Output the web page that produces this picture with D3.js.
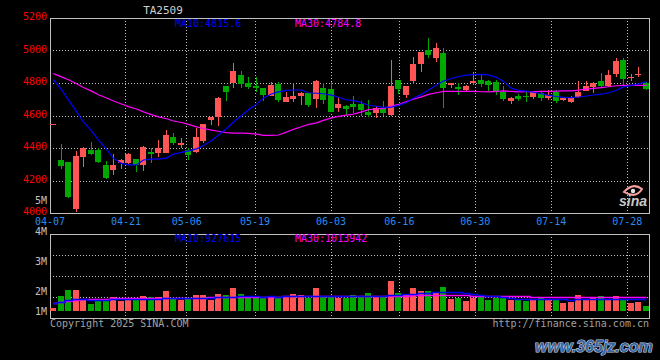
<!DOCTYPE html>
<html><head><meta charset="utf-8">
<script src="https://cdn.jsdelivr.net/npm/d3@7/dist/d3.min.js"></script>
<style>html,body{margin:0;padding:0;background:#000;}svg{display:block}</style>
</head><body>
<svg id="c" width="660" height="360"></svg>
<script>
const title = "TA2509";
const dates = ["04-07","04-08","04-09","04-10","04-11","04-14","04-15","04-16","04-17","04-18",
"04-21","04-22","04-23","04-24","04-25","04-28","04-29","04-30","05-06","05-07",
"05-08","05-09","05-12","05-13","05-14","05-15","05-16","05-19","05-20","05-21",
"05-22","05-23","05-26","05-27","05-28","05-29","05-30","06-03","06-04","06-05",
"06-06","06-09","06-10","06-11","06-12","06-13","06-16","06-17","06-18","06-19",
"06-20","06-23","06-24","06-25","06-26","06-27","06-30","07-01","07-02","07-03",
"07-04","07-07","07-08","07-09","07-10","07-11","07-14","07-15","07-16","07-17",
"07-18","07-21","07-22","07-23","07-24","07-25","07-28","07-29","07-30","07-31"];
const openP = [4548,4326,4314,4026,4346,4388,4388,4295,4265,4306,
4310,4330,4297,4377,4367,4371,4466,4420,4388,4377,
4445,4570,4593,4781,4798,4849,4802,4781,4767,4720,
4794,4685,4701,4720,4736,4700,4771,4763,4644,4658,
4671,4671,4623,4617,4644,4603,4818,4726,4812,4917,
5003,4956,4986,4786,4777,4757,4800,4818,4812,4808,
4746,4689,4720,4718,4716,4736,4706,4746,4695,4685,
4716,4753,4773,4814,4781,4855,4942,4830,4850,4798];
const highP = [4548,4425,4316,4383,4404,4437,4400,4322,4363,4335,
4372,4335,4412,4400,4450,4511,4490,4460,4400,4521,
4548,4592,4716,4781,4925,4874,4837,4837,4767,4806,
4806,4747,4798,4747,4747,4818,4800,4808,4716,4665,
4720,4690,4695,4660,4690,4942,4818,4783,4962,4993,
5075,5046,5013,4798,4800,4788,4870,4849,4818,4818,
4781,4716,4730,4746,4750,4750,4757,4760,4709,4720,
4812,4812,4808,4863,4880,4952,4952,4857,4900,4808];
const lowP = [4548,4273,4092,4008,4281,4357,4305,4211,4236,4271,
4300,4250,4257,4305,4347,4367,4420,4400,4325,4371,
4430,4540,4535,4691,4767,4767,4761,4744,4691,4718,
4683,4685,4685,4665,4650,4648,4670,4620,4623,4603,
4615,4597,4590,4585,4597,4600,4735,4708,4794,4868,
4952,4931,4644,4767,4726,4745,4788,4774,4751,4727,
4691,4670,4689,4685,4699,4690,4695,4677,4689,4680,
4706,4751,4736,4777,4775,4839,4788,4810,4835,4755];
const closeP = [4548,4289,4100,4351,4400,4363,4316,4217,4293,4326,
4362,4293,4404,4361,4400,4480,4433,4433,4357,4466,
4548,4588,4706,4746,4874,4794,4773,4769,4726,4788,
4695,4716,4722,4740,4665,4812,4695,4623,4671,4642,
4650,4634,4603,4644,4617,4781,4761,4783,4917,4993,
4972,5017,4771,4798,4763,4781,4812,4794,4788,4746,
4700,4706,4702,4712,4746,4709,4726,4689,4709,4709,
4746,4783,4798,4781,4849,4935,4823,4834,4856,4761];
const ma10 = [4820,4760,4695,4625,4560,4505,4449,4393,4336,4305,
4296,4296,4326,4332,4332,4338,4362,4373,4382,4395,
4415,4445,4480,4520,4560,4600,4635,4670,4708,4732,
4745,4755,4757,4757,4740,4737,4734,4725,4712,4697,
4692,4680,4663,4657,4650,4652,4662,4680,4708,4730,
4757,4788,4812,4828,4840,4848,4851,4853,4850,4835,
4810,4767,4755,4750,4743,4734,4724,4717,4712,4710,
4714,4720,4726,4731,4740,4755,4776,4785,4795,4808];
const ma30 = [4858,4838,4820,4795,4772,4750,4728,4708,4689,4671,
4655,4640,4622,4605,4592,4580,4566,4557,4545,4530,
4520,4510,4503,4495,4492,4491,4490,4485,4478,4478,
4480,4498,4515,4531,4545,4555,4570,4585,4595,4602,
4608,4622,4636,4640,4644,4658,4668,4685,4700,4715,
4730,4740,4749,4749,4749,4749,4749,4746,4745,4748,
4751,4748,4745,4746,4747,4748,4749,4750,4751,4752,
4756,4762,4767,4772,4777,4783,4785,4786,4786,4785];
// volume in millions of lots
const volume = [0.59,1.07,1.30,1.30,0.91,0.76,0.88,0.88,1.02,0.88,
0.98,0.98,1.07,1.02,1.02,1.26,0.94,0.91,0.94,1.10,
1.10,0.91,1.14,1.10,1.37,1.14,1.07,1.04,1.04,1.07,
1.02,1.04,1.14,1.10,0.98,1.37,1.02,1.04,1.00,1.00,
1.10,1.08,1.18,1.04,1.04,1.64,1.18,1.14,1.37,1.26,
1.26,1.18,1.41,0.95,0.99,0.87,1.00,1.07,0.91,1.00,
0.98,0.91,0.91,0.87,0.94,1.02,0.91,0.91,0.81,0.85,
1.10,0.95,1.02,1.07,0.95,1.07,0.95,0.81,0.85,0.68];
const volMa10 = [0.80,0.84,0.90,0.93,0.93,0.92,0.92,0.92,0.93,0.93,
0.94,0.93,0.93,0.94,0.95,0.97,0.98,0.98,0.98,0.99,
1.00,1.00,1.01,1.03,1.04,1.05,1.05,1.05,1.04,1.05,
1.04,1.05,1.05,1.06,1.06,1.08,1.07,1.06,1.06,1.05,
1.05,1.05,1.06,1.06,1.05,1.11,1.12,1.13,1.15,1.17,
1.19,1.20,1.23,1.22,1.20,1.18,1.15,1.12,1.08,1.05,
1.02,0.99,0.96,0.95,0.94,0.95,0.94,0.94,0.93,0.92,
0.93,0.93,0.94,0.95,0.95,0.96,0.96,0.95,0.95,0.93];
const volMa30 = [0.78,0.83,0.88,0.92,0.94,0.95,0.96,0.96,0.97,0.97,
0.98,0.98,0.98,0.99,0.99,0.99,1.00,1.00,1.00,1.00,
1.00,1.01,1.01,1.02,1.02,1.03,1.03,1.03,1.04,1.04,
1.04,1.05,1.05,1.05,1.05,1.06,1.06,1.06,1.06,1.06,
1.06,1.06,1.07,1.07,1.07,1.08,1.08,1.08,1.09,1.09,
1.10,1.10,1.10,1.10,1.09,1.09,1.08,1.08,1.07,1.07,
1.06,1.06,1.05,1.05,1.04,1.04,1.04,1.03,1.03,1.03,
1.03,1.02,1.02,1.02,1.02,1.02,1.01,1.01,1.01,1.01];
const priceTicks = [5200,5000,4800,4600,4400,4200,4000];
const dateTicks = ["04-07","04-21","05-06","05-19","06-03","06-16","06-30","07-14","07-28"];
const volTickLabels = ["5M","4M","3M","2M","1M"];
const maLabels = ["MA10:4815.6","MA30:4784.8"];
const volMaLabels = ["MA10:927615","MA30:1013942"];

const FONT = "'DejaVu Sans Mono', monospace";
const svg = d3.select("#c");
svg.append("rect").attr("width",660).attr("height",360).attr("fill","#000");

const L = 50, R = 650, T = 18, B = 213, VT = 234, VB = 318, VBASE = 310.7;
const RED = "#ff5555", GREEN = "#00a800", GRID = "#c0c0c0";

const xb = d3.scaleBand().domain(dates).range([L, R]);
const xg = d3.scalePoint().domain(dates).range([L, R]);
const y = d3.scaleLinear().domain([4000, 5200]).range([B, T]);
const yv = d3.scaleLinear().domain([0.5, 3.44]).range([VBASE, VT]);

const bx = d => Math.round(xb(d));
const cx = d => Math.round(xb(d)) + 3;

// grid main
const g = svg.append("g").attr("shape-rendering","crispEdges");
priceTicks.slice(1, -1).forEach(p => {
  g.append("line").attr("x1",L).attr("x2",R-1).attr("y1",Math.round(y(p))+0.5).attr("y2",Math.round(y(p))+0.5)
   .attr("stroke",GRID).attr("stroke-dasharray","1,2");
});
dateTicks.slice(1).forEach(d => {
  const x = Math.floor(xg(d)) + 0.5;
  g.append("line").attr("x1",x).attr("x2",x).attr("y1",T).attr("y2",B).attr("stroke",GRID).attr("stroke-dasharray","1,2");
  g.append("line").attr("x1",x).attr("x2",x).attr("y1",VT).attr("y2",VB).attr("stroke",GRID).attr("stroke-dasharray","1,2");
});
[1,2,3].forEach(k => {
  const yy = Math.round(VT + (VB - VT) * k / 4) + 0.5;
  g.append("line").attr("x1",L).attr("x2",R-1).attr("y1",yy).attr("y2",yy).attr("stroke",GRID).attr("stroke-dasharray","1,2");
});
// borders
g.append("rect").attr("x",L+0.5).attr("y",T+0.5).attr("width",R-L-1).attr("height",B-T).attr("fill","none").attr("stroke",GRID);
g.append("rect").attr("x",L+0.5).attr("y",VT+0.5).attr("width",R-L-1).attr("height",VB-VT).attr("fill","none").attr("stroke",GRID);

// sina logo
const logo = svg.append("g");
logo.append("path").attr("d","M624,192 Q633,182 642,189 Q636,199 624,192 Z").attr("fill","none").attr("stroke","#f4a0a0").attr("stroke-width",2);
logo.append("circle").attr("cx",633).attr("cy",191).attr("r",2.2).attr("fill","#e0e0e0");
logo.append("text").attr("x",619).attr("y",206).attr("font-family","'Liberation Sans', sans-serif").attr("font-size",14)
  .attr("font-weight","bold").attr("font-style","italic").attr("fill","#c8c8c8").text("sina");

// candles
const data = dates.map((d,i) => ({d, o:openP[i], h:highP[i], l:lowP[i], c:closeP[i], v:volume[i]}));
const cg = svg.append("g").attr("shape-rendering","crispEdges");
data.forEach(k => {
  const col = k.c >= k.o ? RED : GREEN;
  const yh = Math.round(y(k.h)), yl = Math.round(y(k.l));
  cg.append("rect").attr("x",cx(k.d)).attr("y",yh).attr("width",1).attr("height",Math.max(1,yl-yh)).attr("fill",col);
  const yt = Math.round(y(Math.max(k.o,k.c))), yb2 = Math.round(y(Math.min(k.o,k.c)));
  cg.append("rect").attr("x",bx(k.d)).attr("y",yt).attr("width",6).attr("height",Math.max(1,yb2-yt)).attr("fill",col);
  const vt = Math.round(yv(k.v));
  cg.append("rect").attr("x",bx(k.d)).attr("y",vt).attr("width",6).attr("height",Math.round(VBASE)-vt).attr("fill",col);
});

// MA lines
const mline = arr => d3.line().x((v,i)=>cx(dates[i])+0.5).y(v=>y(v))(arr);
svg.append("path").attr("d",mline(ma30)).attr("fill","none").attr("stroke","#ff00ff").attr("stroke-width",1.2);
svg.append("path").attr("d",mline(ma10)).attr("fill","none").attr("stroke","#0000ff").attr("stroke-width",1.2);
const vline = arr => d3.line().curve(d3.curveStep).x((v,i)=>cx(dates[i])+0.5).y(v=>Math.round(yv(v))+0.5)(arr);
svg.append("path").attr("d",vline(volMa30)).attr("fill","none").attr("stroke","#ff00ff").attr("stroke-width",1.5);
svg.append("path").attr("d",vline(volMa10)).attr("fill","none").attr("stroke","#0000ff").attr("stroke-width",1.5);

// texts
const txt = (x,yy,s,col,anchor,size) => svg.append("text").attr("x",x).attr("y",yy).attr("fill",col)
  .attr("font-family",FONT).attr("font-size",size||10).attr("text-anchor",anchor||"start")
  .attr("dominant-baseline","central").text(s);
txt(163,10,title,"#d0d0d0","middle",11);
priceTicks.forEach(p => txt(47, y(p)-1.5, String(p), "#ff0000", "end"));
dateTicks.forEach(d => txt(xg(d), 221.5, d, "#2a8cf0", "middle"));
const volLabelY = [200, 231, 261, 291, 311];
volTickLabels.forEach((s,i) => txt(47, volLabelY[i], s, "#c0c0c0", "end"));
txt(175, 23.5, maLabels[0], "#0000ff");
txt(295, 23.5, maLabels[1], "#ff00ff");
txt(175, 238.5, volMaLabels[0], "#0000ff");
txt(295, 238.5, volMaLabels[1], "#ff00ff");
txt(50, 323.5, "Copyright 2025 SINA.COM", "#a0a0a0");
txt(649, 323.5, "http://finance.sina.com.cn", "#a0a0a0", "end");
svg.append("text").attr("x",535).attr("y",352)
  .attr("font-family","'Liberation Sans', sans-serif").attr("font-size",16).attr("font-weight","bold").attr("font-style","italic")
  .attr("fill","#3a66a0").attr("stroke","#c8d2e0").attr("stroke-width",1.2).attr("paint-order","stroke")
  .text("www.365jz.com");
</script>
</body></html>
